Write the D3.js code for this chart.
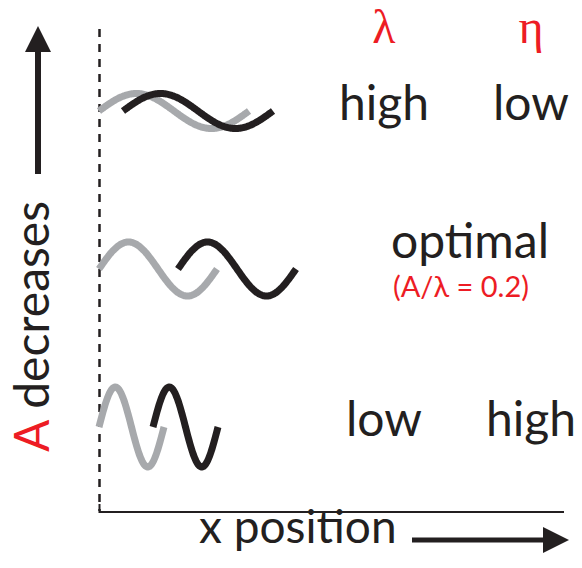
<!DOCTYPE html>
<html>
<head>
<meta charset="utf-8">
<script src="https://cdn.jsdelivr.net/npm/d3@7"></script>
<style>
    html, body { margin: 0; padding: 0; background: #fff; }
    svg { display: block; font-family: Lato, 'Open Sans', sans-serif; }
</style>
</head>
<body>
<div id="chart"></div>
<script>
// Three regimes, top to bottom: wave amplitude A, wavelength and how far
// the black (shifted) wave is displaced from the grey one (x-position units)
const regimes = ['high-lambda', 'optimal', 'low-lambda'];
const amplitude = [17.5, 27, 40];
const wavelength = [150, 118, 65];
const shift = [24, 79, 54];

// Row labels for the lambda and eta columns
const lambdaLabels = ['high', 'optimal', 'low'];
const etaLabels = ['low', '', 'high'];
const optimalNote = '(A/\u03bb = 0.2)';

const COLORS = { red: '#ed1c24', ink: '#231f20', grey: '#a7a9ac' };

const width = 582, height = 568;

const svg = d3.select('#chart')
    .append('svg')
    .attr('width', width)
    .attr('height', height);

// x position: one unit per pixel starting at the dashed origin line
const x = d3.scaleLinear().domain([0, 465]).range([99, 564]);
// row centres
const row = d3.scalePoint().domain(regimes).range([111, 427]);

// Arrow markers
const defs = svg.append('defs');
defs.append('marker')
    .attr('id', 'head')
    .attr('viewBox', '0 -5 10 10')
    .attr('refX', 0)
    .attr('refY', 0)
    .attr('markerUnits', 'userSpaceOnUse')
    .attr('markerWidth', 26)
    .attr('markerHeight', 28)
    .attr('orient', 'auto')
    .append('path')
    .attr('d', 'M0,-5L10,0L0,5Z')
    .attr('fill', COLORS.ink);

// Axes: dashed origin line and solid x axis
svg.append('line')
    .attr('x1', x(0) + 0.5).attr('x2', x(0) + 0.5)
    .attr('y1', 29).attr('y2', 511)
    .attr('stroke', COLORS.ink)
    .attr('stroke-width', 2.5)
    .attr('stroke-dasharray', '8 7');

svg.append('path')
    .attr('d', `M${x(0) + 0.5},504V512H${x(465)}`)
    .attr('fill', 'none')
    .attr('stroke', COLORS.ink)
    .attr('stroke-width', 2);

// Up arrow + "A decreases"
svg.append('line')
    .attr('x1', 38).attr('x2', 38)
    .attr('y1', 174).attr('y2', 52)
    .attr('stroke', COLORS.ink)
    .attr('stroke-width', 6)
    .attr('marker-end', 'url(#head)');

const yLabel = svg.append('text')
    .attr('transform', 'translate(49,452) rotate(-90)')
    .attr('font-size', 48)
    .attr('fill', COLORS.ink);
yLabel.append('tspan').attr('fill', COLORS.red).text('A');
yLabel.append('tspan').text(' decreases');

// x label + right arrow
svg.append('text')
    .attr('x', 199).attr('y', 543)
    .attr('font-size', 46)
    .attr('fill', COLORS.ink)
    .text('x position');

svg.append('line')
    .attr('x1', 412).attr('x2', 543)
    .attr('y1', 540).attr('y2', 540)
    .attr('stroke', COLORS.ink)
    .attr('stroke-width', 5)
    .attr('marker-end', 'url(#head)');

// Waves: grey reference wave starts at the origin, black copy is shifted
const line = d3.line().x(d => x(d[0])).y(d => d[1]).curve(d3.curveBasis);

function wavePoints(i, offset) {
    const lam = wavelength[i], A = amplitude[i], c = row(regimes[i]);
    return d3.range(0, lam + 0.5, 1).map(t =>
        [offset + t, c - A * Math.sin(2 * Math.PI * t / lam)]);
}

const waves = svg.append('g').attr('class', 'waves');
regimes.forEach((r, i) => {
    waves.append('path')
        .attr('d', line(wavePoints(i, 0)))
        .attr('fill', 'none')
        .attr('stroke', COLORS.grey)
        .attr('stroke-width', 7);
    waves.append('path')
        .attr('d', line(wavePoints(i, shift[i])))
        .attr('fill', 'none')
        .attr('stroke', COLORS.ink)
        .attr('stroke-width', 7);
});

// Column headers
const colLambda = 384, colEta = 531;
svg.append('text')
    .attr('x', colLambda).attr('y', 43)
    .attr('text-anchor', 'middle')
    .attr('font-family', "'Liberation Serif', 'DejaVu Serif', serif")
    .attr('font-size', 48)
    .attr('fill', COLORS.red)
    .text('\u03bb');
svg.append('text')
    .attr('x', colEta).attr('y', 43)
    .attr('text-anchor', 'middle')
    .attr('font-family', "'Liberation Serif', 'DejaVu Serif', serif")
    .attr('font-size', 48)
    .attr('fill', COLORS.red)
    .text('\u03b7');

// Row labels
const labels = svg.append('g').attr('class', 'labels')
    .attr('font-size', 48)
    .attr('fill', COLORS.ink)
    .attr('text-anchor', 'middle');

regimes.forEach((r, i) => {
    const c = row(r);
    if (etaLabels[i]) {
        labels.append('text').attr('x', colLambda).attr('y', c + 9).text(lambdaLabels[i]);
        labels.append('text').attr('x', colEta).attr('y', c + 9).text(etaLabels[i]);
    } else {
        labels.append('text').attr('x', 470).attr('y', c - 11).text(lambdaLabels[i]);
        labels.append('text')
            .attr('x', 461).attr('y', c + 28)
            .attr('font-size', 29)
            .attr('fill', COLORS.red)
            .text(optimalNote);
    }
});
</script>
</body>
</html>
